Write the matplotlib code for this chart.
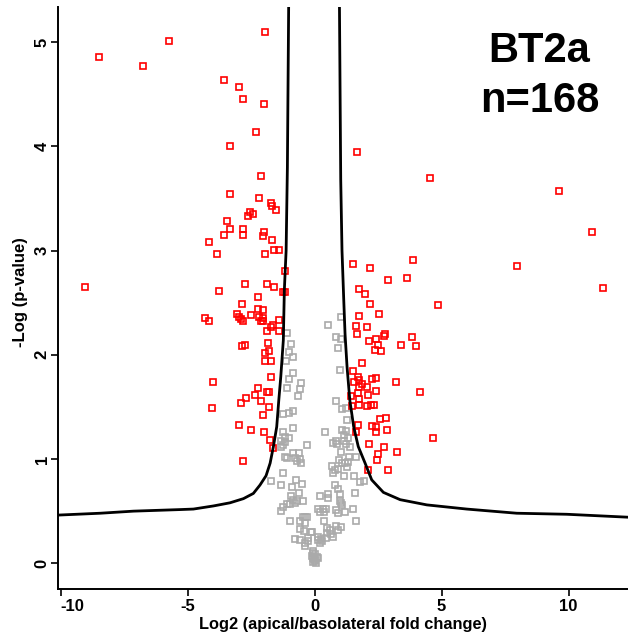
import matplotlib
matplotlib.use('Agg')
import matplotlib.pyplot as plt

plt.rcParams['font.family'] = ['Liberation Sans', 'DejaVu Sans']
plt.rcParams['axes.unicode_minus'] = False

# significant proteins (red)
red_x = [-8.47, -6.74, -5.73, -1.94, -3.56, -2.96, -2.80, -1.99, -2.31, -3.33,
         -2.12, -3.33, -2.19, -1.70, -1.69, -1.50, -2.54, -2.62, -2.41, -3.46,
         -3.33, -3.56, -2.80, -2.80, -1.98, -2.04, -1.69, -4.14, -1.61, -1.41,
         -3.85, -1.94, -1.16, -9.04, -2.75, -1.88, -1.59, -3.76, -1.25, -1.15,
         -2.24, -2.84, -2.21, -2.03, -3.05, -2.51, -2.98, -2.91, -2.80, -2.20,
         -2.02, -2.09, -4.30, -4.14, -1.41, -1.62, -1.72, -1.88, -1.41, -1.83,
         -2.85, -2.75, -1.78, -1.94, -1.94, -1.70, -1.70, -4.00, -2.22, -1.88,
         -1.78, -2.70, -2.91, -2.33, -2.09, -4.04, -1.80, -2.04, -2.98, -2.51,
         -1.99, -1.75, -1.65, -2.80, -2.04,
         1.66, 4.55, 9.61, 10.91, 1.50, 3.87, 7.98, 2.19, 2.91, 3.63,
         11.35, 1.76, 2.00, 2.19, 4.87, 2.53, 1.76, 1.62, 2.06, 1.66,
         2.78, 2.72, 3.83, 2.15, 2.43, 2.49, 3.41, 4.01, 2.38, 2.62,
         1.86, 1.52, 1.70, 1.75, 1.57, 2.28, 2.43, 3.20, 1.86, 1.75,
         2.06, 1.70, 2.43, 4.15, 1.44, 2.09, 1.75, 1.49, 1.75, 2.06,
         2.22, 2.35, 2.57, 2.81, 1.70, 2.28, 2.43, 2.87, 1.62, 2.43,
         4.68, 2.13, 2.72, 3.24, 2.51, 2.47, 2.09, 2.91]
red_y = [4.86, 4.77, 5.01, 5.10, 4.64, 4.57, 4.45, 4.41, 4.14, 4.00,
         3.72, 3.54, 3.50, 3.46, 3.43, 3.39, 3.37, 3.33, 3.35, 3.28,
         3.21, 3.15, 3.21, 3.15, 3.18, 3.14, 3.10, 3.08, 3.01, 3.01,
         2.97, 2.97, 2.80, 2.65, 2.68, 2.68, 2.65, 2.61, 2.60, 2.60,
         2.55, 2.49, 2.44, 2.43, 2.39, 2.38, 2.36, 2.34, 2.32, 2.36,
         2.35, 2.32, 2.35, 2.32, 2.33, 2.29, 2.27, 2.23, 2.23, 2.11,
         2.08, 2.09, 2.04, 2.02, 1.94, 1.94, 1.79, 1.74, 1.68, 1.64,
         1.64, 1.59, 1.54, 1.61, 1.56, 1.49, 1.50, 1.42, 1.33, 1.28,
         1.26, 1.18, 1.11, 0.98, 2.32,
         3.95, 3.70, 3.57, 3.18, 2.87, 2.91, 2.85, 2.83, 2.72, 2.74,
         2.64, 2.63, 2.58, 2.49, 2.48, 2.39, 2.37, 2.28, 2.27, 2.20,
         2.20, 2.18, 2.17, 2.13, 2.15, 2.09, 2.09, 2.08, 2.05, 2.04,
         1.92, 1.84, 1.79, 1.76, 1.74, 1.77, 1.78, 1.74, 1.72, 1.69,
         1.69, 1.63, 1.65, 1.64, 1.60, 1.61, 1.58, 1.51, 1.52, 1.51,
         1.52, 1.52, 1.38, 1.39, 1.33, 1.32, 1.31, 1.28, 1.26, 1.26,
         1.20, 1.14, 1.12, 1.07, 1.05, 0.99, 0.89, 0.89]

# non-significant proteins (gray)
gray_x = [-1.07, -0.91, -1.02, -0.86, -1.12, -0.83, -0.99, -0.54, -0.57, -1.07,
          -0.65, -0.86, -1.02, -1.25, -0.83, -1.25, -1.15, -1.02, -1.31, -1.17,
          -1.23, -1.33, -0.31, -1.17, -1.07, -0.83, -0.62, -0.76, -0.57, -0.54,
          -0.68, -1.25, -1.72, -1.31, -0.73, -0.49, -0.89, -0.60, -0.94, -0.83,
          -0.70, -1.09, -0.96, -1.23, -1.31, -0.76, -0.44, -0.96, -0.57, -0.44,
          -0.39, -0.31, -0.57, -0.41, -0.13, -0.78, -0.57, -0.39, -0.26, -0.39,
          -0.37, -0.24,
          -0.05, 0.02, -0.11, 0.10, -0.01, -0.06, 0.05, 0.15, -0.06, 0.00,
          -0.08, 0.03,
          0.52, 1.05, 0.86, 1.03, 0.94, 1.02, 0.86, 1.07, 1.25, 1.28,
          0.41, 1.09, 1.25, 1.15, 1.31, 0.73, 0.89, 0.83, 1.17, 1.25,
          1.04, 1.39, 1.62, 1.36, 0.96, 1.09, 1.20, 1.31, 1.28, 0.70,
          0.81, 0.73, 0.94, 1.15, 1.54, 1.78, 1.94, 0.81, 0.94, 0.99,
          1.59, 0.20, 0.54, 0.52, 0.99, 1.04, 1.09, 1.52, 0.15, 0.33,
          0.44, 0.20, 0.39, 0.83, 0.91, 1.20, 1.65, 0.36, 0.49, 0.60,
          0.49, 0.65, 0.44, 0.73, 0.94, 0.83, 1.04, 0.15, 0.26, 0.28,
          0.23, 0.15, -0.11]
gray_y = [2.21, 2.10, 2.03, 1.98, 1.94, 1.83, 1.77, 1.73, 1.67, 1.68,
          1.60, 1.46, 1.44, 1.43, 1.30, 1.26, 1.21, 1.20, 1.17, 1.16,
          1.13, 1.12, 1.13, 1.02, 1.01, 1.06, 1.06, 1.01, 1.00, 0.96,
          0.98, 0.87, 0.79, 0.75, 0.80, 0.76, 0.73, 0.67, 0.65, 0.61,
          0.60, 0.57, 0.57, 0.54, 0.50, 0.58, 0.60, 0.41, 0.41, 0.44,
          0.39, 0.44, 0.33, 0.31, 0.30, 0.23, 0.22, 0.19, 0.24, 0.17,
          0.44, 0.21,
          0.10, 0.09, 0.07, 0.06, 0.04, 0.01, 0.00, 0.05, 0.12, 0.02,
          0.05, 0.03,
          2.29, 2.36, 2.17, 2.15, 2.07, 1.85, 1.56, 1.48, 1.49, 1.37,
          1.26, 1.28, 1.27, 1.23, 1.20, 1.15, 1.14, 1.17, 1.17, 1.14,
          1.07, 1.12, 1.02, 1.02, 0.99, 0.96, 0.96, 0.97, 0.92, 0.93,
          0.89, 0.87, 0.90, 0.84, 0.84, 0.78, 0.79, 0.75, 0.71, 0.66,
          0.67, 0.65, 0.66, 0.63, 0.60, 0.58, 0.56, 0.52, 0.52, 0.52,
          0.52, 0.49, 0.49, 0.51, 0.48, 0.49, 0.41, 0.41, 0.34, 0.32,
          0.29, 0.28, 0.24, 0.25, 0.32, 0.36, 0.35, 0.25, 0.23, 0.21,
          0.19, 0.22, 0.30]

# significance threshold curve
curve_left_x = [-1.00, -1.02, -1.07, -1.12, -1.19, -1.23, -1.33, -1.41, -1.49,
                -1.62, -1.75, -1.91, -2.15, -2.41, -2.80, -3.33, -3.98, -4.77,
                -5.30, -7.13, -8.44, -10.3]
curve_left_y = [6.00, 5.34, 3.80, 3.00, 2.62, 2.14, 1.79, 1.56, 1.31,
                1.12, 0.96, 0.84, 0.75, 0.67, 0.62, 0.58, 0.55, 0.52,
                0.515, 0.50, 0.48, 0.46]
curve_right_x = [0.97, 0.98, 1.03, 1.08, 1.15, 1.20, 1.28, 1.39, 1.54, 1.72,
                 1.99, 2.25, 2.71, 3.37, 4.42, 5.99, 7.96, 9.93, 12.5]
curve_right_y = [6.00, 5.34, 3.68, 3.00, 2.52, 2.20, 1.88, 1.56, 1.31, 1.12,
                 0.96, 0.80, 0.68, 0.61, 0.56, 0.52, 0.48, 0.47, 0.44]

fig = plt.figure(figsize=(6.28, 6.36), dpi=100)
ax = fig.add_axes([0.0924, 0.0734, 0.9076, 0.9161])

ax.plot(gray_x, gray_y, linestyle='none', marker='s', ms=5, mfc='none',
        mec='#aaaaaa', mew=1.2)
ax.plot(red_x, red_y, linestyle='none', marker='s', ms=5, mfc='none',
        mec='#ff0000', mew=1.2)
ax.plot(curve_left_x, curve_left_y, color='black', lw=2.0)
ax.plot(curve_right_x, curve_right_y, color='black', lw=2.0)

ax.set_xlim(-10.1, 12.34)
ax.set_ylim(-0.25, 5.34)
ax.spines['top'].set_visible(False)
ax.spines['right'].set_visible(False)
for s in ('left', 'bottom'):
    ax.spines[s].set_linewidth(1.4)

ax.set_xticks([-10, -5, 0, 5, 10])
ax.set_yticks([0, 1, 2, 3, 4, 5])
ax.tick_params(axis='both', width=1.2, length=5, labelsize=12)
ax.tick_params(axis='x', pad=2)
ax.tick_params(axis='y', pad=1)
for lab in ax.get_xticklabels():
    lab.set_fontweight('bold')
ax.get_xticklabels()[0].set_ha('left')
for lab in ax.get_yticklabels():
    lab.set_fontweight('bold')
    lab.set_rotation(90)
    lab.set_va('center')

ax.set_xlabel('Log2 (apical/basolateral fold change)', fontsize=11.8,
              fontweight='bold', labelpad=2)
ax.set_ylabel('-Log (p-value)', fontsize=12, fontweight='bold')
ax.yaxis.set_label_coords(-0.052, 0.51)

ax.text(0.845, 0.881, 'BT2a\nn=168', transform=ax.transAxes, ha='center',
        va='center', fontsize=30, fontweight='bold', linespacing=1.3)

fig.savefig('out.png', dpi=100)
